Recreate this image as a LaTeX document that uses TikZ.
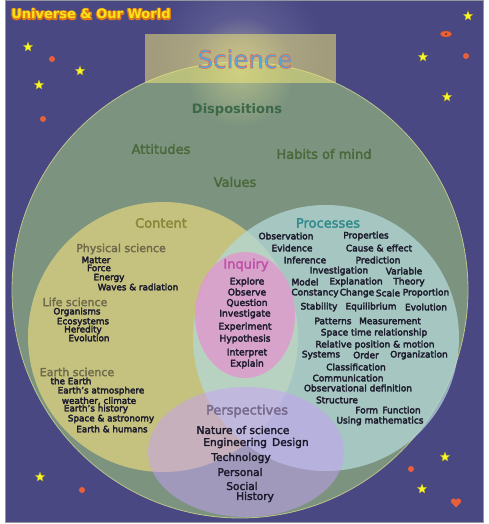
\documentclass[tikz,border=0pt]{standalone}
\usepackage{fontspec}
\setmainfont{DejaVu Sans}
\usetikzlibrary{shapes.geometric,fadings}
\definecolor{navy}{RGB}{74,72,131}
\definecolor{framegray}{RGB}{150,150,160}
\definecolor{dispc}{RGB}{123,147,127}
\definecolor{rimc}{RGB}{190,196,140}
\definecolor{contc}{RGB}{196,194,126}
\definecolor{procc}{RGB}{180,216,217}
\definecolor{inqc}{RGB}{222,155,205}
\definecolor{persc}{RGB}{200,160,250}
\definecolor{boxc}{RGB}{235,226,120}
\definecolor{glowc}{RGB}{225,225,150}
\definecolor{glowb}{RGB}{150,150,190}
\definecolor{itemc}{RGB}{28,27,44}
\definecolor{dispt}{RGB}{60,104,72}
\definecolor{attc}{RGB}{74,104,58}
\definecolor{conth}{RGB}{136,134,56}
\definecolor{subh}{RGB}{112,106,76}
\definecolor{proch}{RGB}{50,138,140}
\definecolor{inqh}{RGB}{192,79,168}
\definecolor{persh}{RGB}{118,104,138}
\definecolor{scib}{RGB}{80,170,228}
\definecolor{titley}{RGB}{245,229,26}
\definecolor{titleo}{RGB}{224,120,24}
\definecolor{stary}{RGB}{250,245,40}
\definecolor{dotc}{RGB}{232,96,58}
\newcommand{\strokeon}[2]{\special{pdf:literal direct 2 Tr #1 w 1 j 1 J #2 RG}}
\newcommand{\strokeoff}{\special{pdf:literal direct 0 Tr 0.4 w}}
\tikzfading[name=glowfade, inner color=transparent!0, outer color=transparent!100]
\begin{document}
\begin{tikzpicture}[x=1pt,y=-1pt,
  embitem/.style={execute at begin node={\strokeon{0.3}{0.11 0.106 0.172}}, execute at end node={\strokeoff}},
  itm/.style={font=\fontsize{9}{9}\selectfont, text=itemc, inner sep=0pt, embitem},
  citm/.style={font=\fontsize{8.8}{9}\selectfont, text=itemc, inner sep=0pt, embitem},
  iitm/.style={font=\fontsize{9.2}{9}\selectfont, text=itemc, inner sep=0pt, embitem},
  pitm/.style={font=\fontsize{10.6}{11}\selectfont, text=itemc, inner sep=0pt, embitem},
  hdr/.style={font=\fontsize{13}{13}\selectfont, inner sep=0pt},
  emb/.style={execute at begin node={\strokeon{0.3}{#1}}, execute at end node={\strokeoff}},
  subhdr/.style={font=\fontsize{11}{11}\selectfont, text=subh, inner sep=0pt, emb={0.44 0.415 0.3}},
  ystar/.style={star, star points=5, star point ratio=2.3, fill=stary, draw=stary!70!black, line width=0.2pt, inner sep=0pt, minimum size=10pt},
  odot/.style={circle, fill=dotc, inner sep=0pt, minimum size=6pt}]
\useasboundingbox (0,0) rectangle (488,524);
\fill[white] (0,0) rectangle (488,524);
\fill[navy, draw=framegray, line width=1pt] (5,0.5) rectangle (483,522.5);
\fill[glowb, path fading=glowfade, fill opacity=0.45] (240,55) circle (85);
% circles
\fill[dispc, draw=rimc, line width=0.8pt] (240,290) circle (228);
\fill[glowc, path fading=glowfade, fill opacity=0.5] (240,72) circle (55);
\fill[boxc, fill opacity=0.55] (145,34) rectangle (336,83);
\fill[contc] (163,337) circle (135);
\fill[procc, fill opacity=0.74] (326,338) circle (133);
\fill[inqc, fill opacity=0.85] (245,315) ellipse [x radius=50, y radius=63];
\fill[persc, fill opacity=0.5] (246,452) ellipse [x radius=98, y radius=65];
% title
\node[font=\bfseries\fontsize{13}{13}\selectfont, inner sep=0pt, text=titleo] (titleglow) at (91,14) {\strokeon{2.6}{0.878 0.47 0.094}Universe \& Our World\strokeoff};
\node[font=\bfseries\fontsize{13}{13}\selectfont, inner sep=0pt, text=titley] (title) at (91,14) {Universe \& Our World};
\node[font=\fontsize{24.5}{25}\selectfont, inner sep=0pt, text=scib] (science) at (245,59) {\strokeon{0.5}{0.9 0.4 0.3}Science\strokeoff};
% dispositions
\node[hdr, font=\bfseries\fontsize{13}{13}\selectfont, text=dispt] (disp) at (237,110) {Dispositions};
\node[hdr, text=attc, emb={0.29 0.41 0.23}] (att) at (161,149) {Attitudes};
\node[hdr, text=attc, emb={0.29 0.41 0.23}] (hab) at (324,154) {Habits of mind};
\node[hdr, text=attc, emb={0.29 0.41 0.23}] (val) at (235,182) {Values};
% content
\node[hdr, text=conth, emb={0.53 0.525 0.22}] (cont) at (161,223) {Content};
\node[subhdr] (phys) at (121,249) {Physical science};
\node[citm] (c1) at (96,260) {Matter};
\node[citm] (c2) at (99,268) {Force};
\node[citm] (c3) at (109,278) {Energy};
\node[citm] (c4) at (138,287) {Waves \& radiation};
\node[subhdr] (life) at (75,302) {Life science};
\node[citm] (c5) at (77,312) {Organisms};
\node[citm] (c6) at (83,322) {Ecosystems};
\node[citm] (c7) at (83,330) {Heredity};
\node[citm] (c8) at (89,338) {Evolution};
\node[subhdr] (earth) at (77,372) {Earth science};
\node[citm] (c9) at (71,381) {the Earth};
\node[citm] (c10) at (101,391) {Earth's atmosphere};
\node[citm] (c11) at (99,401) {weather, climate};
\node[citm] (c12) at (96,409) {Earth's history};
\node[citm] (c13) at (111,419) {Space \& astronomy};
\node[citm] (c14) at (112,429) {Earth \& humans};
% inquiry
\node[hdr, text=inqh, emb={0.85 0.5 0.78}] (inq) at (246,265) {Inquiry};
\node[iitm] (i1) at (247,282) {Explore};
\node[iitm] (i2) at (247,292) {Observe};
\node[iitm] (i3) at (247,303) {Question};
\node[iitm] (i4) at (245,314) {Investigate};
\node[iitm] (i5) at (245,327) {Experiment};
\node[iitm] (i6) at (245,339) {Hypothesis};
\node[iitm] (i7) at (247,353) {Interpret};
\node[iitm] (i8) at (247,364) {Explain};
% processes
\node[hdr, text=proch, emb={0.196 0.54 0.55}] (proc) at (328,223) {Processes};
\node[itm] (p1) at (286,236) {Observation};
\node[itm] (p2) at (366,236) {Properties};
\node[itm] (p3) at (292,248) {Evidence};
\node[itm] (p4) at (379,248) {Cause \& effect};
\node[itm] (p5) at (305,260) {Inference};
\node[itm] (p6) at (378,260) {Prediction};
\node[itm] (p7) at (339,271) {Investigation};
\node[itm] (p8) at (404,271) {Variable};
\node[itm] (p9) at (305,282) {Model};
\node[itm] (p10) at (356,282) {Explanation};
\node[itm] (p11) at (409,282) {Theory};
\node[itm] (p12) at (315,293) {Constancy};
\node[itm] (p13) at (357,293) {Change};
\node[itm] (p14) at (388,293) {Scale};
\node[itm] (p15) at (426,293) {Proportion};
\node[itm] (p16) at (319,307) {Stability};
\node[itm] (p17) at (371,307) {Equilibrium};
\node[itm] (p18) at (426,307) {Evolution};
\node[itm] (p19) at (333,321) {Patterns};
\node[itm] (p20) at (390,321) {Measurement};
\node[itm] (p21) at (374,333) {Space time relationship};
\node[itm] (p22) at (375,345) {Relative position \& motion};
\node[itm] (p23) at (321,355) {Systems};
\node[itm] (p24) at (366,355) {Order};
\node[itm] (p25) at (419,355) {Organization};
\node[itm] (p26) at (356,367) {Classification};
\node[itm] (p27) at (348,378) {Communication};
\node[itm] (p28) at (358,388) {Observational definition};
\node[itm] (p29) at (337,400) {Structure};
\node[itm] (p30) at (388,410) {Form\, Function};
\node[itm] (p31) at (380,421) {Using mathematics};
% perspectives
\node[hdr, text=persh, emb={0.46 0.41 0.54}] (pers) at (247,411) {Perspectives};
\node[pitm] (s1) at (243,430) {Nature of science};
\node[pitm] (s2) at (256,443) {Engineering\, Design};
\node[pitm] (s3) at (241,458) {Technology};
\node[pitm] (s4) at (240,472) {Personal};
\node[pitm] (s5) at (242,486) {Social};
\node[pitm] (s6) at (255,497) {History};
% stars and dots
\node[ystar] (st1) at (28,47) {};
\node[ystar] (st2) at (80,71) {};
\node[ystar] (st3) at (39,85) {};
\node[ystar] (st4) at (468,16) {};
\node[ystar] (st5) at (423,57) {};
\node[ystar] (st6) at (447,97) {};
\node[ystar] (st7) at (445,457) {};
\node[ystar] (st8) at (422,489) {};
\node[ystar] (st9) at (40,477) {};
\node[odot] (d1) at (52,59) {};
\node[odot] (d2) at (43,119) {};
\node[odot] (d3) at (466,56) {};
\node[odot] (d4) at (411,469) {};
\node[odot] (d5) at (82,490) {};
\fill[dotc, draw=dotc!70!black, line width=0.3pt] (446,34) ellipse [x radius=6, y radius=3];
\fill[dotc!40!black] (446,34) circle (1);
\fill[dotc] (453.6,501) circle (2.6);
\fill[dotc] (458.4,501) circle (2.6);
\fill[dotc] (451.1,502.2) -- (460.9,502.2) -- (456,507.5) -- cycle;
\end{tikzpicture}
\end{document}
